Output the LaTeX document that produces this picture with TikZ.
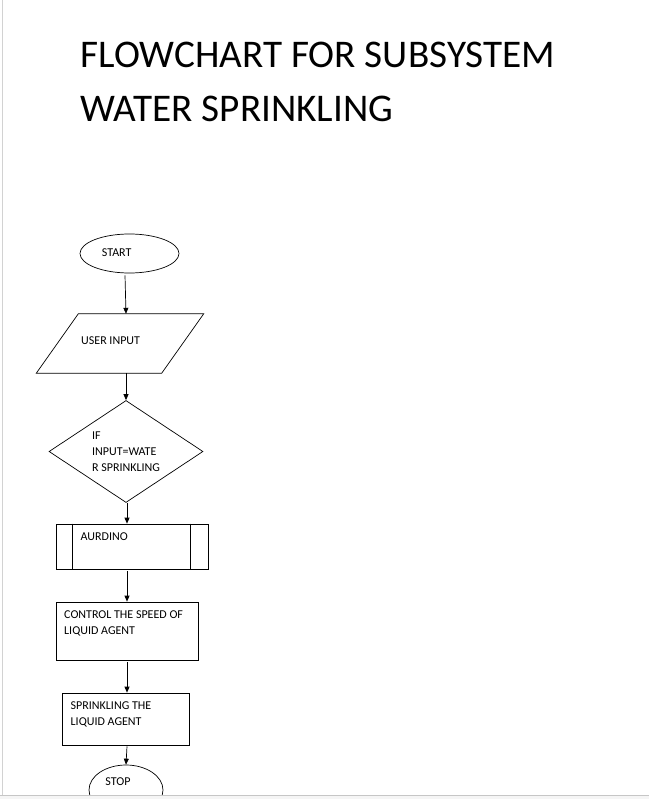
\documentclass[tikz,border=0pt]{standalone}
\usepackage{fontspec}
\setmainfont{Carlito}
\usetikzlibrary{shapes.geometric,arrows.meta,calc}
\begin{document}
\begin{tikzpicture}[x=1pt,y=-1pt,
  shp/.style={draw=black,line width=0.7pt,inner sep=0pt},
  txt/.style={inner sep=0pt,align=left,font=\fontsize{12}{16.2}\selectfont},
  ttl/.style={inner sep=0pt,anchor=base west,font=\fontsize{39.2}{54}\selectfont},
  arr/.style={draw=black,line width=0.7pt,-{Triangle[length=6pt,width=5pt]}}]
\useasboundingbox (0,0) rectangle (649,799);
\fill[white] (0,0) rectangle (649,799);
% title
\node[ttl] (t1) at (80.5,68) {FLOWCHART FOR SUBSYSTEM};
\node[ttl] (t2) at (80.5,122) {WATER SPRINKLING};
% shapes
\node[shp,ellipse,minimum width=99pt,minimum height=39pt] (start) at (129.5,253.5) {};
\node[txt] (starttxt) at (116.7,253) {START};
\node[inner sep=0pt,minimum width=125pt,minimum height=59pt] (inp) at (120,343.5) {};
\draw[line width=0.7pt] ($(inp.north west)+(21,0)$) -- ($(inp.north east)+(21,0)$)
  -- ($(inp.south east)+(-21,0)$) -- ($(inp.south west)+(-21,0)$) -- cycle;
\node[txt,anchor=west] (inptxt) at (81,340.5) {USER INPUT};
\node[shp,diamond,aspect=1.5,minimum width=154pt,minimum height=102pt,txt,draw] (dec) at (126,451.5)
  {IF\\INPUT=WATE\\R SPRINKLING};
\node[shp,rectangle,minimum width=152pt,minimum height=45pt] (proc) at (132,546.5) {};
\draw[line width=0.7pt] ($(proc.north west)+(17,0)$) -- ($(proc.south west)+(17,0)$);
\draw[line width=0.7pt] ($(proc.north east)+(-18,0)$) -- ($(proc.south east)+(-18,0)$);
\node[txt,anchor=west] (proctxt) at (80.5,537) {AURDINO};
\node[shp,rectangle,minimum width=142pt,minimum height=58pt] (ctrl) at (127,631) {};
\node[txt,anchor=north west] (ctrltxt) at (64,610.5) {CONTROL THE SPEED OF\\LIQUID AGENT};
\node[shp,rectangle,minimum width=127pt,minimum height=52pt] (spr) at (125.5,719) {};
\node[txt,anchor=north west] (sprtxt) at (70.5,701.5) {SPRINKLING THE\\LIQUID AGENT};
\node[shp,ellipse,minimum width=74pt,minimum height=50pt] (stop) at (126,790) {};
\node[txt] (stoptxt) at (118,782) {STOP};
% connectors
\draw[arr] ($(start.south)+(-4.5,2)$) -- ($(inp.north)+(6,0)$);
\draw[arr] ($(inp.south)+(6,0)$) -- (dec.north);
\draw[arr] ($(dec.south)+(1,0)$) -- ($(proc.north)+(-5,0)$);
\draw[arr] ($(proc.south)+(-5,2)$) -- (ctrl.north);
\draw[arr] ($(ctrl.south)+(0,2)$) -- ($(spr.north)+(1.5,0)$);
\draw[arr] ($(spr.south)+(1.5,1)$) -- (stop.north);
% window frame
\fill[gray!8] (0,795) rectangle (649,799);
\draw[gray!45,line width=0.8pt] (0,795) -- (649,795);
\draw[gray!35,line width=0.8pt] (2.5,0) -- (2.5,795);
\end{tikzpicture}
\end{document}
